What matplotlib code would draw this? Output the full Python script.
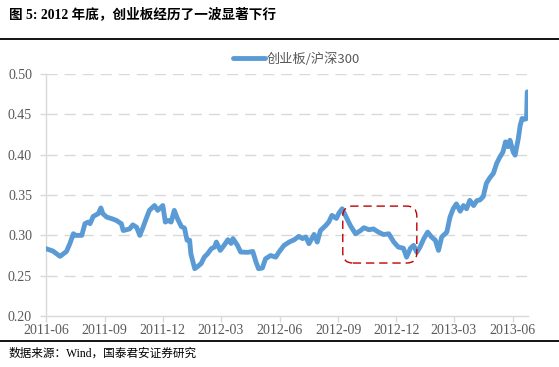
import numpy as np
import pandas as pd
import matplotlib
matplotlib.use('Agg')
import matplotlib.pyplot as plt
import matplotlib.dates as mdates
from matplotlib.patches import FancyBboxPatch

plt.rcParams['font.family'] = ['Noto Sans CJK SC', 'DejaVu Sans']
mixed_serif = ['Liberation Serif', 'Noto Sans CJK SC']

title = '图 5: 2012 年底，创业板经历了一波显著下行'
source = '数据来源：Wind，国泰君安证券研究'
series_name = '创业板/沪深300'

# days after 2011-06-01
day_offset = [0, 11, 22, 32, 37, 43, 46, 56, 61, 66, 69, 74, 82, 86, 89, 95, 103, 110, 118, 121,
              131, 136, 142, 147, 152, 157, 162, 170, 175, 183, 187, 191, 196, 201, 206, 212, 217,
              221, 225, 227, 233, 238, 243, 248, 253, 259, 264, 267, 273, 279, 285, 290, 293, 300,
              305, 316, 324, 329, 333, 339, 344, 352, 360, 365, 373, 381, 389, 396, 402, 407, 412,
              420, 425, 430, 438, 443, 448, 455, 459, 464, 469, 477, 485, 493, 498, 506, 513, 521,
              529, 537, 545, 552, 560, 565, 571, 576, 581, 586, 592, 598, 604, 610, 615, 620, 628,
              633, 638, 643, 649, 654, 659, 664, 670, 675, 680, 685, 690, 695, 701, 706, 711, 716,
              720, 724, 727, 732, 735, 740, 743, 746, 750, 753, 754]
ratio = [0.2835, 0.2805, 0.274, 0.280, 0.289, 0.302, 0.300, 0.300, 0.3145, 0.3165, 0.3145, 0.3235,
         0.327, 0.334, 0.327, 0.3227, 0.3207, 0.3186, 0.3145, 0.306, 0.308, 0.313, 0.310, 0.300,
         0.310, 0.3207, 0.331, 0.337, 0.331, 0.337, 0.3165, 0.3186, 0.3165, 0.331, 0.3207, 0.311,
         0.309, 0.294, 0.294, 0.277, 0.2587, 0.2616, 0.265, 0.273, 0.277, 0.2835, 0.2855, 0.2917,
         0.2814, 0.2876, 0.2946, 0.290, 0.296, 0.2876, 0.2793, 0.279, 0.280, 0.2669, 0.2587,
         0.2595, 0.271, 0.275, 0.273, 0.2793, 0.2876, 0.2917, 0.2946, 0.2988, 0.296, 0.298,
         0.2897, 0.3012, 0.2917, 0.306, 0.312, 0.3165, 0.3248, 0.321, 0.3277, 0.333, 0.3248,
         0.312, 0.302, 0.306, 0.3095, 0.307, 0.308, 0.304, 0.301, 0.302, 0.2917, 0.2855, 0.284,
         0.273, 0.284, 0.2876, 0.279, 0.2855, 0.296, 0.304, 0.298, 0.294, 0.2814, 0.298, 0.304,
         0.3227, 0.333, 0.339, 0.330, 0.337, 0.333, 0.3434, 0.337, 0.343, 0.344, 0.348, 0.3645,
         0.371, 0.377, 0.389, 0.397, 0.4035, 0.416, 0.410, 0.418, 0.4035, 0.3995, 0.420, 0.4366,
         0.445, 0.444, 0.445, 0.478]

tick_months = ['2011-06', '2011-09', '2011-12', '2012-03', '2012-06', '2012-09', '2012-12',
               '2013-03', '2013-06']
y_ticks = [0.20, 0.25, 0.30, 0.35, 0.40, 0.45, 0.50]

# highlighted window (late 2012 decline)
box_dates = ['2012-09-08', '2013-01-02']
box_values = [0.2657, 0.3363]

dates = pd.Timestamp('2011-06-01') + pd.to_timedelta(day_offset, unit='D')

fig = plt.figure(figsize=(5.59, 3.67), dpi=100)
ax = fig.add_axes([0.0823, 0.139, 0.862, 0.659])

line_color = '#5b9bd5'
grid_color = '#d9d9d9'
label_color = '#595959'

ax.plot(dates, ratio, color=line_color, lw=3.5, solid_joinstyle='round', solid_capstyle='round',
        label=series_name, zorder=3)

ax.set_ylim(0.20, 0.50)
ax.set_xlim(pd.Timestamp('2011-06-01'), dates[-1] + pd.Timedelta(days=1))
ax.set_yticks(y_ticks)
ax.set_yticklabels(['%.2f' % v for v in y_ticks])
ax.set_xticks(pd.to_datetime(tick_months))
ax.set_xticklabels(tick_months)

for v in y_ticks[1:]:
    ax.axhline(v, color=grid_color, lw=1, dashes=(8, 5), zorder=1)

for side in ['top', 'right']:
    ax.spines[side].set_visible(False)
for side in ['left', 'bottom']:
    ax.spines[side].set_color(grid_color)
    ax.spines[side].set_linewidth(1)

ax.tick_params(axis='both', colors=grid_color, length=4, width=1)
for lab in ax.get_xticklabels() + ax.get_yticklabels():
    lab.set_fontfamily('Liberation Serif')
    lab.set_fontsize(10)
    lab.set_color(label_color)
ax.tick_params(axis='x', pad=1.5)
ax.tick_params(axis='y', pad=6)

leg = ax.legend(loc='upper center', bbox_to_anchor=(0.52, 1.14), frameon=False, fontsize=9.5,
                handlelength=2.4, handletextpad=0.1)
for t in leg.get_texts():
    t.set_color(label_color)

# red dashed rounded box, drawn in pixel space so the corners stay round
fig.canvas.draw()
x0, y0 = ax.transData.transform((mdates.date2num(pd.Timestamp(box_dates[0])), box_values[0]))
x1, y1 = ax.transData.transform((mdates.date2num(pd.Timestamp(box_dates[1])), box_values[1]))
box = FancyBboxPatch((x0, y0), x1 - x0, y1 - y0, boxstyle='round,pad=0,rounding_size=10',
                     transform=None, fill=False, edgecolor='#c00000', lw=1.0,
                     linestyle=(0, (6, 3.5)), zorder=4)
fig.patches.append(box)
box.set_figure(fig)

fig.text(0.016, 0.962, title, fontsize=9.8, fontweight='bold', va='center', ha='left',
         family=mixed_serif)
fig.add_artist(plt.Line2D([0, 1], [0.893, 0.893], color='black', lw=1.3))
fig.add_artist(plt.Line2D([0, 1], [0.072, 0.072], color='black', lw=1.3))
fig.text(0.016, 0.035, source, fontsize=8.4, va='center', ha='left', family=mixed_serif)

fig.savefig('out.png', dpi=100)
